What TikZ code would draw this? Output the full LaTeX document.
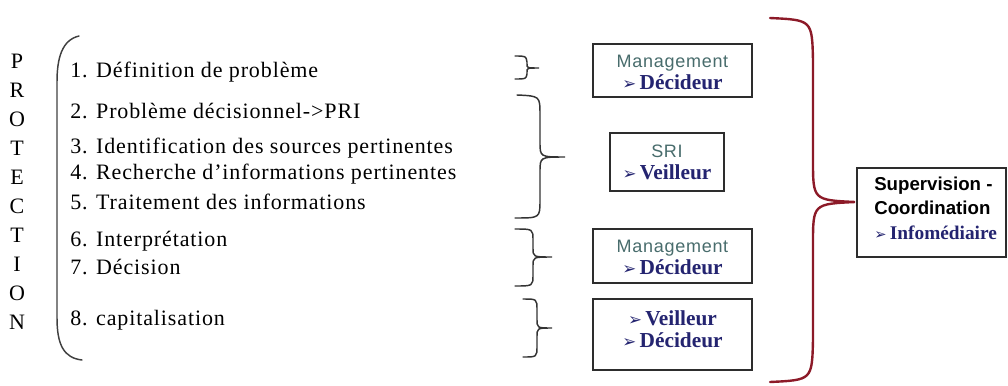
\documentclass[tikz,border=0pt]{standalone}
\usepackage{fontspec}
\setmainfont{Liberation Serif}
\newfontfamily\itemfont[LetterSpace=4]{Liberation Serif}
\newfontfamily\boxsans[LetterSpace=4]{Liberation Sans}
\newfontfamily\supsans{Liberation Sans}
\newfontfamily\dingfont{DejaVu Sans}
\definecolor{rolenavy}{RGB}{36,36,112}
\definecolor{mgmt}{RGB}{72,108,108}
\definecolor{bracered}{RGB}{140,26,40}
\definecolor{boxline}{RGB}{45,45,45}
\newcommand{\mg}[1]{{\color{mgmt}\boxsans\fontsize{13.5}{16}\selectfont #1}}
\newcommand{\rl}[1]{{\color{rolenavy}\dingfont\fontsize{12.5}{16}\selectfont ➢}\,{\color{rolenavy}\bfseries\fontsize{16}{16}\selectfont #1}}
\newcommand{\rls}[1]{{\color{rolenavy}\dingfont\fontsize{11}{16}\selectfont ➢}\,{\color{rolenavy}\bfseries\fontsize{14.5}{16}\selectfont #1}}
\begin{document}
\begin{tikzpicture}[x=0.75pt,y=-0.75pt,
  item/.style={anchor=base west, inner sep=0pt, font=\itemfont\fontsize{16.5}{18}\selectfont},
  letter/.style={anchor=base, inner sep=0pt, font=\fontsize{16.5}{18}\selectfont},
  rolebox/.style={draw=boxline, line width=1.1pt, fill=white, inner sep=0pt},
  roletext/.style={align=center, inner sep=0pt, font=\fontsize{15}{16.5}\selectfont},
  bracepath/.style={draw=black!80, line width=1.1pt, line cap=round},
  bigbrace/.style={draw=bracered, line width=1.8pt, line cap=round}]
\useasboundingbox (0,0) rectangle (1008,386);
% PROTECTION
\foreach \l [count=\i from 0] in {P,R,O,T,E,C,T,I,O,N}
  \node[letter] (L\i) at (17,{68+29*\i}) {\l};
% left parenthesis
\coordinate (pt) at (79,36);
\coordinate (pb) at (82,360);
\draw[bracepath, draw=black!75] (pt) .. controls (62,40) and (57,58) .. (57,82) -- (57,318) .. controls (57,345) and (64,358) .. (pb);
% items
\node[item] (i1) at (70,77) {1. Définition de problème};
\node[item] (i2) at (70,118) {2. Problème décisionnel->PRI};
\node[item] (i3) at (70,153) {3. Identification des sources pertinentes};
\node[item] (i4) at (70,179) {4. Recherche d’informations pertinentes};
\node[item] (i5) at (70,209) {5. Traitement des informations};
\node[item] (i6) at (70,246) {6. Interprétation};
\node[item] (i7) at (70,274) {7. Décision};
\node[item] (i8) at (70,325) {8. capitalisation};
% small braces
\draw[bracepath] (515,56) .. controls (526,56) .. (527,62) -- (527,64) .. controls (527,68) .. (539,68)
  .. controls (527,68) .. (527,72) -- (527,74) .. controls (526,79) .. (515,79);
\draw[bracepath] (517,95) .. controls (540,96) .. (540,115) -- (540,142) .. controls (540,157) .. (565,157)
  .. controls (540,157) .. (540,172) -- (540,200) .. controls (540,218) .. (515,218);
\draw[bracepath] (515,229) .. controls (533,229) .. (533,240) -- (533,248) .. controls (533,257) .. (552,257)
  .. controls (533,257) .. (533,266) -- (533,275) .. controls (533,286) .. (515,286);
\draw[bracepath] (523,299) .. controls (537,299) .. (537,310) -- (537,319) .. controls (537,328) .. (552,328)
  .. controls (537,328) .. (537,337) -- (537,346) .. controls (537,357) .. (523,357);
% boxes
\node[rolebox, minimum width=159*0.75pt, minimum height=53*0.75pt] (b1) at (672.5,70.5) {};
\node[roletext] (t1) at (672.5,72) {\mg{Management}\\ \rl{Décideur}};
\node[rolebox, minimum width=114*0.75pt, minimum height=58*0.75pt] (b2) at (667,162) {};
\node[roletext] (t2) at (667,162.5) {\mg{SRI}\\ \rl{Veilleur}};
\node[rolebox, minimum width=159*0.75pt, minimum height=54*0.75pt] (b3) at (672.5,256) {};
\node[roletext] (t3) at (672.5,257.5) {\mg{Management}\\ \rl{Décideur}};
\node[rolebox, minimum width=159*0.75pt, minimum height=71*0.75pt] (b4) at (672.5,334.5) {};
\node[roletext] (t4) at (672.5,329) {\rl{Veilleur}\\ \rl{Décideur}};
% big red brace
\coordinate (rt) at (770,18);
\coordinate (rb) at (770,382);
\draw[bigbrace] (rt) .. controls (812,20) .. (813,60) -- (813,160) .. controls (813,200) .. (855,202)
  .. controls (813,204) .. (813,244) -- (813,340) .. controls (812,380) .. (rb);
% supervision box
\node[rolebox, minimum width=149*0.75pt, minimum height=89*0.75pt] (b5) at (931.5,212.5) {};
\node[align=left, anchor=west, inner sep=0pt, font=\fontsize{15}{18.5}\selectfont] (t5) at (874,208)
  {{\supsans\bfseries\fontsize{14}{16}\selectfont Supervision -}\\
   {\supsans\bfseries\fontsize{14}{16}\selectfont Coordination}\\
   \rls{Infomédiaire}};
\end{tikzpicture}
\end{document}
